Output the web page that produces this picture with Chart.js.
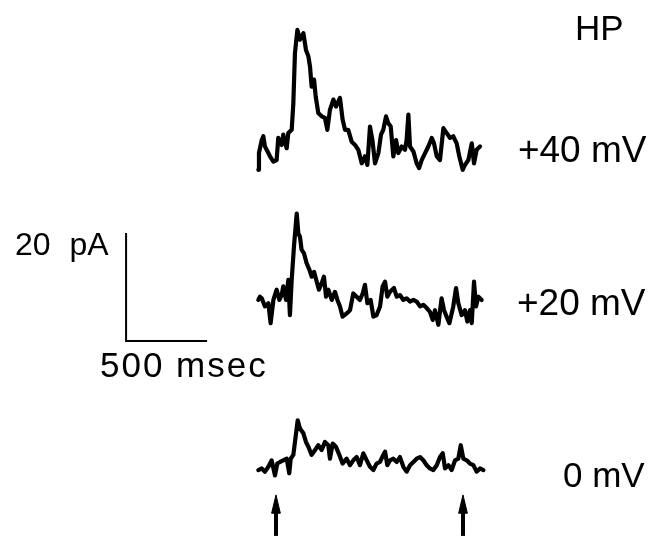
<!DOCTYPE html>
<html>
<head>
<meta charset="utf-8">
<script src="https://cdn.jsdelivr.net/npm/chart.js@4/dist/chart.umd.min.js"></script>
<style>
html,body{margin:0;padding:0;background:#fff;}
#wrap{width:668px;height:537px;position:relative;}
</style>
</head>
<body>
<div id="wrap"><canvas id="c"></canvas></div>
<script>
// ---- Data (time in msec from trace start, current in pA relative to holding baseline) ----
const traceNames = ["+40 mV", "+20 mV", "0 mV"];
const holdingLabel = "HP";

const t40 = [2,6,23,33,43,64,74,95,115,125,146,156,177,187,208,218,228,243,259,280,296,311,321,331,346,356,372,393,413,428,444,465,481,506,522,537,557,578,599,619,640,660,675,691,706,722,743,759,773,790,804,819,835,852,866,887,907,917,928,938,959,979,994,1010,1031,1051,1072,1086,1103,1123,1144,1164,1185,1205,1226,1242,1263,1277,1298,1319,1333,1349,1370];
const i40 = [-2.4,0.7,3.1,3.8,1.9,0.7,0.1,-0.9,-0.6,3.5,2.2,4.1,1.6,4.4,5.0,9.9,19.2,23.5,21.7,22.9,19.8,18.6,16.7,13.0,14.3,11.2,8.1,7.5,7.2,5.0,8.7,10.6,9.3,10.9,6.9,5.0,5.0,2.8,2.2,1.3,-1.2,0.1,-1.5,5.6,3.1,-1.2,0.7,4.1,5.0,7.5,6.2,5.6,0.1,3.1,0.7,1.9,1.3,3.1,7.8,1.9,1.0,-1.2,-2.1,-0.6,0.7,1.9,3.5,2.5,0.1,-0.6,5.3,4.4,3.5,3.8,2.5,0.1,-2.4,-1.5,-0.6,2.5,-1.2,1.3,1.9];

const t20 = [2,12,23,43,64,78,95,115,132,146,156,173,187,197,208,222,239,249,259,269,284,300,317,331,346,362,376,393,407,420,434,455,475,490,506,522,547,568,588,609,629,646,660,675,695,712,732,753,769,784,798,815,839,856,876,897,917,938,959,979,1000,1020,1041,1061,1078,1092,1113,1133,1148,1164,1181,1205,1222,1236,1257,1277,1292,1308,1319,1333,1345,1360,1380];
const i20 = [0,0.6,0.3,-1.2,-0.6,-4.3,0,1.9,0,0.9,2.5,0,3.7,-2.8,3.7,9.9,16.0,12.3,11.7,9.3,8.6,6.8,5.6,4.3,5.2,3.4,1.9,3.1,4.3,0.6,1.9,0,1.5,0,-1.2,-3.1,-2.5,-1.9,1.2,0.6,0,1.2,2.8,-0.6,0,-3.1,-2.8,-1.2,2.5,3.4,0.6,1.5,2.2,0.6,0.9,0,0.3,-0.3,0,-0.3,-1.2,-0.9,-1.5,-2.2,-3.7,-1.9,-4.6,0.3,-1.9,-3.1,-4.3,-1.2,2.2,-0.6,-2.8,-1.9,-4.0,-1.9,-4.3,3.4,-1.2,0.6,0];

const t0 = [2,23,43,64,84,105,119,136,156,177,193,202,218,235,245,259,280,296,311,331,352,372,393,413,434,444,461,481,502,522,547,568,588,609,629,650,671,691,712,732,753,773,784,798,815,835,856,876,897,917,938,959,979,1000,1020,1041,1061,1082,1103,1123,1140,1154,1175,1195,1216,1236,1251,1267,1288,1308,1329,1349,1370,1391];
const i0 = [-0.9,-0.6,-1.2,-0.3,0.9,-1.9,0.3,0.6,0.9,1.2,-1.5,1.2,1.9,5.9,8.3,6.8,5.9,4.3,3.4,1.9,2.8,3.7,2.8,4.3,3.7,1.2,4.0,3.4,1.9,0.3,1.2,0,0.9,1.5,0,2.2,0.9,-0.3,-0.9,0.3,0.6,1.9,2.5,0,0.9,1.2,0.6,1.5,-0.3,-1.2,0,0.6,1.2,1.5,0.9,0,-0.6,-0.9,0,1.5,2.2,-0.6,0,-0.9,0.9,1.2,3.7,1.2,0.9,0.3,0,-1.2,-0.6,-0.9];

// vertical display offsets of each trace (pA on the plot's y axis)
const traceOffsets = [70.4, 43.9, 13.3];

// scale bars
const scaleBarCurrent = 20;   // pA
const scaleBarTime = 500;     // msec
const scaleBarLabels = ["20 pA", "500 msec"];

// stimulus arrows (msec)
const stimTimes = [111, 1265];

// ---- Build datasets ----
const traceTimes = [t40, t20, t0];
const traceCurrents = [i40, i20, i0];

const datasets = [];
traceTimes.forEach((ts, k) => {
  datasets.push({
    data: ts.map((t, j) => ({x: t, y: traceCurrents[k][j] + traceOffsets[k]})),
    borderColor: '#000', borderWidth: 4.2, pointRadius: 0, tension: 0,
    borderJoinStyle: 'round', borderCapStyle: 'round', fill: false
  });
});

// scale bar geometry (placement)
const sbX = -814, sbY = 36.3;
datasets.push({
  data: [{x: sbX, y: sbY + scaleBarCurrent}, {x: sbX, y: sbY}, {x: sbX + scaleBarTime, y: sbY}],
  borderColor: '#000', borderWidth: 2, pointRadius: 0, tension: 0, fill: false
});

// arrows
const arrowBase = 0.2, arrowNeck = 4.4, arrowTip = 7.8, arrowHalf = 27;
stimTimes.forEach(t => {
  datasets.push({
    data: [{x: t, y: arrowBase}, {x: t, y: arrowNeck + 0.3}],
    borderColor: '#000', borderWidth: 4, pointRadius: 0, fill: false
  });
  datasets.push({
    data: [{x: t - arrowHalf, y: arrowNeck}, {x: t, y: arrowTip}, {x: t + arrowHalf, y: arrowNeck}, {x: t - arrowHalf, y: arrowNeck}],
    borderColor: '#000', backgroundColor: '#000', borderWidth: 1, pointRadius: 0, tension: 0, fill: 'shape'
  });
});

// text placement (data coordinates)
const textItems = [
  {text: holdingLabel, x: 1956, y: 92.0, size: 35, align: 'left'},
  {text: traceNames[0], x: 1604, y: 69.4, size: 37, align: 'left'},
  {text: traceNames[1], x: 1598, y: 41.1, size: 37, align: 'left'},
  {text: traceNames[2], x: 1882, y: 9.3, size: 35, align: 'left'},
  {text: scaleBarLabels[0], x: -1499, y: 52.3, size: 32, align: 'left', word: 10},
  {text: scaleBarLabels[1], x: -975, y: 29.6, size: 35, align: 'left', spacing: 2}
];

const textPlugin = {
  id: 'labels',
  afterDraw(chart) {
    const ctx = chart.ctx, xs = chart.scales.x, ys = chart.scales.y;
    ctx.save();
    ctx.fillStyle = '#000';
    ctx.textBaseline = 'alphabetic';
    textItems.forEach(it => {
      ctx.font = it.size + 'px "Liberation Sans", Arial, Helvetica, sans-serif';
      ctx.textAlign = it.align;
      try { ctx.letterSpacing = (it.spacing || 0) + 'px'; } catch (e) {}
      try { ctx.wordSpacing = (it.word || 0) + 'px'; } catch (e) {}
      ctx.fillText(it.text, xs.getPixelForValue(it.x), ys.getPixelForValue(it.y));
    });
    ctx.restore();
  }
};

new Chart(document.getElementById('c'), {
  type: 'line',
  data: {datasets},
  options: {
    responsive: true, maintainAspectRatio: false, animation: false,
    layout: {padding: 0},
    plugins: {legend: {display: false}, tooltip: {enabled: false}, title: {display: false}},
    scales: {
      x: {type: 'linear', min: -1592, max: 2530, display: false},
      y: {type: 'linear', min: 0, max: 99.44, display: false}
    }
  },
  plugins: [textPlugin]
});
</script>
</body>
</html>
